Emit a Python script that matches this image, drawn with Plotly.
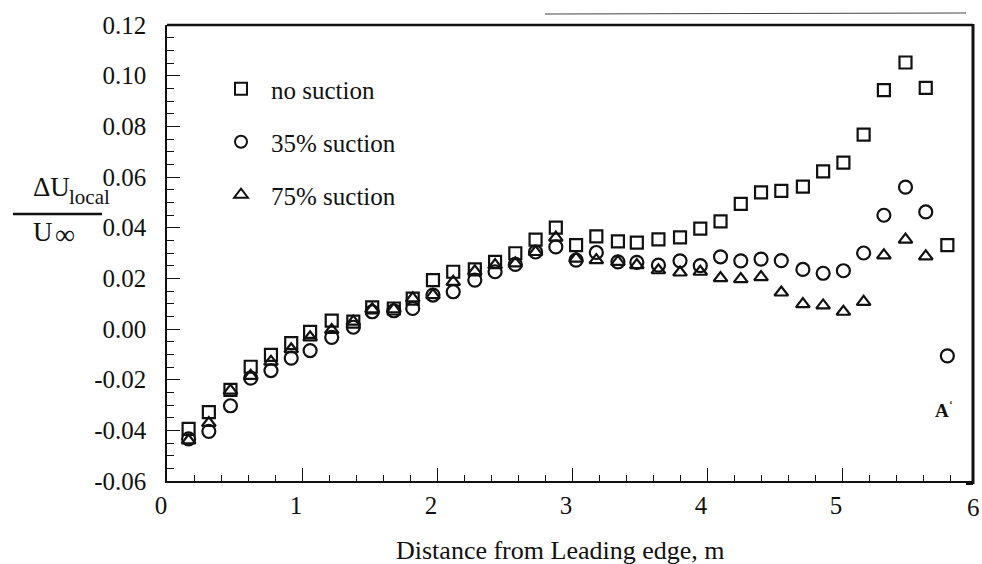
import plotly.graph_objects as go

# Distance from the leading edge (m) for each measuring station
distance_m = [0.16, 0.31, 0.47, 0.62, 0.77, 0.92, 1.06, 1.22, 1.38, 1.52,
              1.68, 1.82, 1.97, 2.12, 2.28, 2.43, 2.58, 2.73, 2.88, 3.03,
              3.18, 3.34, 3.48, 3.64, 3.80, 3.95, 4.10, 4.25, 4.40, 4.55,
              4.71, 4.86, 5.01, 5.16, 5.31, 5.47, 5.62, 5.78]

# Local velocity deviation  dU_local / U_inf
no_suction = [-0.0394, -0.0328, -0.0240, -0.0149, -0.0102, -0.0056, -0.0011, 0.0033,
              0.0029, 0.0085, 0.0081, 0.0120, 0.0193, 0.0226, 0.0235, 0.0265,
              0.0299, 0.0353, 0.0400, 0.0331, 0.0366, 0.0346, 0.0341, 0.0354,
              0.0362, 0.0396, 0.0425, 0.0494, 0.0539, 0.0545, 0.0562, 0.0622,
              0.0657, 0.0767, 0.0943, 0.1052, 0.0952, 0.0331]

suction_35 = [-0.0434, -0.0404, -0.0303, -0.0194, -0.0164, -0.0115, -0.0085, -0.0033,
              0.0007, 0.0068, 0.0072, 0.0081, 0.0134, 0.0147, 0.0193, 0.0226,
              0.0255, 0.0304, 0.0324, 0.0272, 0.0302, 0.0265, 0.0263, 0.0252,
              0.0269, 0.0250, 0.0285, 0.0269, 0.0276, 0.0270, 0.0235, 0.0220,
              0.0230, 0.0300, 0.0449, 0.0560, 0.0462, -0.0106]

suction_75 = [-0.0440, -0.0371, -0.0243, -0.0185, -0.0129, -0.0080, -0.0033, -0.0004,
              0.0029, 0.0078, 0.0078, 0.0121, 0.0134, 0.0186, 0.0228, 0.0252,
              0.0259, 0.0304, 0.0361, 0.0278, 0.0272, 0.0265, 0.0252, 0.0232,
              0.0223, 0.0226, 0.0201, 0.0197, 0.0205, 0.0144, 0.0098, 0.0093,
              0.0068, 0.0107, 0.0291, 0.0353, 0.0287]

series_names = ["no suction", "35% suction", "75% suction"]

x_tick_values = [0, 1, 2, 3, 4, 5]
x_tick_labels = ["0", "1", "2", "3", "4", "5"]
y_tick_values = [-0.06, -0.04, -0.02, 0.00, 0.02, 0.04, 0.06, 0.08, 0.10, 0.12]
y_tick_labels = ["-0.06", "-0.04", "-0.02", "0.00", "0.02", "0.04", "0.06",
                 "0.08", "0.10", "0.12"]

SERIF = "Liberation Serif"
INK = "#111111"

fig = go.Figure()

symbols = ["square-open", "circle-open", "triangle-up-open"]
sizes = [12, 13, 12]
for name, ys, sym, sz in zip(series_names, [no_suction, suction_35, suction_75], symbols, sizes):
    fig.add_trace(go.Scatter(
        x=distance_m[:len(ys)], y=ys, mode="markers", name=name,
        legendgroup=name,
        marker=dict(symbol=sym, size=sz, color=INK, line=dict(width=2.2, color=INK)),
        cliponaxis=False,
    ))

# plot box: x 167..973 px, y 25..481 px
L, R, T, B = 167, 973, 25, 481
W, H = 982, 564


def px(xp):
    return (xp - L) / (R - L)


def py(yp):
    return (B - yp) / (B - T)


axis_common = dict(
    showgrid=False, zeroline=False, showline=True, linecolor=INK, linewidth=1.5,
    ticks="inside", tickcolor=INK, tickwidth=1.3, ticklen=13,
    tickfont=dict(family=SERIF, size=25, color=INK),
)

fig.update_xaxes(
    range=[0, 5.97], tickmode="array", tickvals=x_tick_values, ticktext=x_tick_labels,
    minor=dict(dtick=0.2, ticks="inside", ticklen=6, tickcolor=INK, tickwidth=1.2),
    ticklabelstandoff=1, ticklabelshift=-6,
    **axis_common,
)
fig.update_yaxes(
    range=[-0.06, 0.12], tickmode="array", tickvals=y_tick_values, ticktext=y_tick_labels,
    minor=dict(dtick=0.005, ticks="inside", ticklen=7, tickcolor=INK, tickwidth=1.2),
    ticklabelstandoff=14,
    **axis_common,
)

shapes = [
    # heavier top and right frame lines
    dict(type="line", xref="paper", yref="paper", x0=0, x1=1, y0=1, y1=1,
         line=dict(color=INK, width=2.5)),
    dict(type="line", xref="paper", yref="paper", x0=1, x1=1, y0=py(484), y1=1.002,
         line=dict(color=INK, width=3)),
    dict(type="line", xref="paper", yref="paper", x0=px(966), x1=1, y0=py(484), y1=py(484),
         line=dict(color=INK, width=2)),
    # thin rule above the frame
    dict(type="line", xref="paper", yref="paper", x0=px(545), x1=px(966), y0=py(14), y1=py(13),
         line=dict(color="#444444", width=1)),
    # fraction bar of the y-axis label
    dict(type="line", xref="paper", yref="paper", x0=px(13), x1=px(102), y0=py(214), y1=py(214),
         line=dict(color=INK, width=2.5)),
]

annotations = [
    dict(text="ΔU", x=px(72), y=py(204), xanchor="right", yanchor="bottom",
         font=dict(family=SERIF, size=27, color=INK)),
    dict(text="local", x=px(67), y=py(211), xanchor="left", yanchor="bottom",
         font=dict(family=SERIF, size=21, color=INK)),
    dict(text="U", x=px(55), y=py(249), xanchor="right", yanchor="bottom",
         font=dict(family=SERIF, size=27, color=INK)),
    dict(text="∞", x=px(53), y=py(252), xanchor="left", yanchor="bottom",
         font=dict(family=SERIF, size=28, color=INK)),
    dict(text="6", x=px(973), y=py(507), xanchor="center", yanchor="middle",
         font=dict(family=SERIF, size=25, color=INK)),
    dict(text="Distance from Leading edge, m", x=px(560), y=py(550),
         xanchor="center", yanchor="middle",
         font=dict(family=SERIF, size=26, color=INK)),
    dict(text="<b>A</b><sup>ʻ</sup>", x=px(944), y=py(409), xanchor="center", yanchor="middle",
         font=dict(family=SERIF, size=19, color=INK)),
]
for a in annotations:
    a.update(xref="paper", yref="paper", showarrow=False)

fig.update_layout(
    width=W, height=H, autosize=False,
    margin=dict(l=L, r=W - R, t=T, b=H - B, pad=0),
    paper_bgcolor="white", plot_bgcolor="white",
    shapes=shapes, annotations=annotations,
    showlegend=True,
    legend=dict(x=px(211), y=py(66), xanchor="left", yanchor="top",
                bgcolor="rgba(0,0,0,0)", borderwidth=0,
                font=dict(family=SERIF, size=25, color=INK),
                itemwidth=50, tracegroupgap=17.5, itemsizing="constant"),
)

fig.write_html("out.html")
